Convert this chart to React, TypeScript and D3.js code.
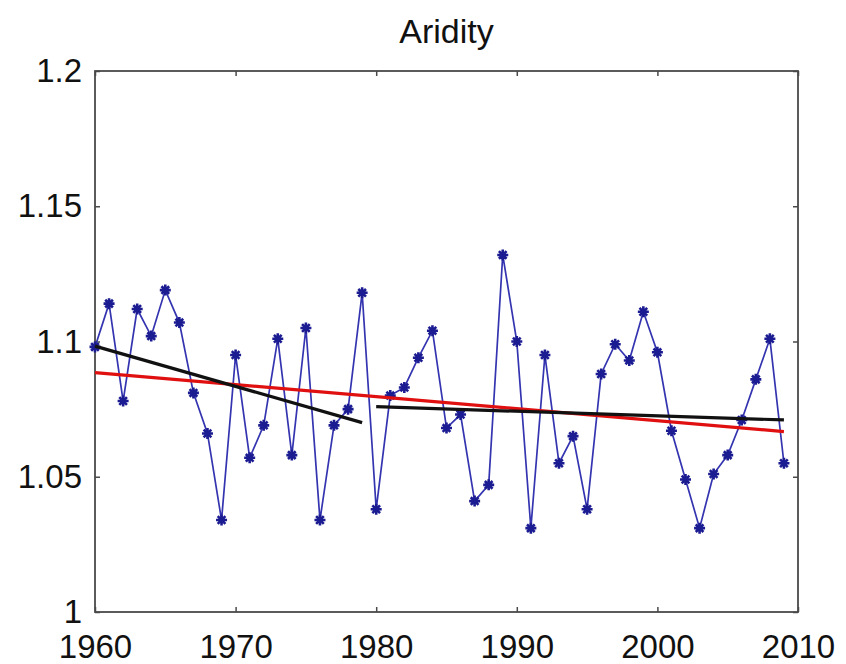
import React, { useEffect, useRef } from "react";
import * as d3 from "d3";

// Yearly aridity index, 1960-2009
const years = d3.range(1960, 2010);
const aridity = [
  1.098, 1.114, 1.078, 1.112, 1.102, 1.119, 1.107, 1.081, 1.066, 1.034,
  1.095, 1.057, 1.069, 1.101, 1.058, 1.105, 1.034, 1.069, 1.075, 1.118,
  1.038, 1.080, 1.083, 1.094, 1.104, 1.068, 1.073, 1.041, 1.047, 1.132,
  1.100, 1.031, 1.095, 1.055, 1.065, 1.038, 1.088, 1.099, 1.093, 1.111,
  1.096, 1.067, 1.049, 1.031, 1.051, 1.058, 1.071, 1.086, 1.101, 1.055,
];

// Trend lines: [year, value] endpoints
const trendAll = [[1960, 1.0885], [2009, 1.0667]];
const trendEarly = [[1960, 1.0983], [1979, 1.070]];
const trendLate = [[1980, 1.0759], [2009, 1.071]];

const xTicks = [1960, 1970, 1980, 1990, 2000, 2010];
const yTicks = [1, 1.05, 1.1, 1.15, 1.2];

const W = 846;
const H = 664;

const App = () => {
  const ref = useRef<SVGSVGElement>(null);

  useEffect(() => {
    const svg = d3.select(ref.current);
    svg.selectAll("*").remove();

    const margin = { top: 71, right: 48, bottom: 52, left: 95 };
    const iw = W - margin.left - margin.right;
    const ih = H - margin.top - margin.bottom;

    const x = d3.scaleLinear().domain([1960, 2010]).range([0, iw]);
    const y = d3.scaleLinear().domain([1, 1.2]).range([ih, 0]);

    svg.append("rect").attr("width", W).attr("height", H).attr("fill", "#fff");

    svg
      .append("text")
      .attr("x", margin.left + iw / 2)
      .attr("y", 43)
      .attr("text-anchor", "middle")
      .attr("font-family", "Liberation Sans, Arial, sans-serif")
      .attr("font-size", 34)
      .attr("fill", "#111")
      .text("Aridity");

    const g = svg.append("g").attr("transform", `translate(${margin.left},${margin.top})`);

    const axisColor = "#4a4a4a";
    const styleAxis = (sel: any, labels: boolean) => {
      sel.select(".domain").remove();
      sel.selectAll(".tick line").attr("stroke", axisColor).attr("stroke-width", 1.5);
      sel
        .selectAll(".tick text")
        .attr("font-family", "Liberation Sans, Arial, sans-serif")
        .attr("font-size", 33)
        .attr("fill", "#111");
      if (!labels) sel.selectAll(".tick text").remove();
    };

    const fmtY = (d: any) => (d === 1 ? "1" : String(d));

    g.append("g")
      .attr("transform", `translate(0,${ih})`)
      .call(d3.axisBottom(x).tickValues(xTicks).tickFormat(d3.format("d")).tickSizeInner(-5).tickSizeOuter(0).tickPadding(23))
      .call((s) => styleAxis(s, true));
    g.append("g")
      .call(d3.axisTop(x).tickValues(xTicks).tickSizeInner(-5).tickSizeOuter(0))
      .call((s) => styleAxis(s, false));
    g.append("g")
      .call(d3.axisLeft(y).tickValues(yTicks).tickFormat(fmtY).tickSizeInner(-5).tickSizeOuter(0).tickPadding(13))
      .call((s) => styleAxis(s, true));
    g.append("g")
      .attr("transform", `translate(${iw},0)`)
      .call(d3.axisRight(y).tickValues(yTicks).tickSizeInner(-5).tickSizeOuter(0))
      .call((s) => styleAxis(s, false));

    g.append("rect")
      .attr("width", iw)
      .attr("height", ih)
      .attr("fill", "none")
      .attr("stroke", axisColor)
      .attr("stroke-width", 1.8);

    const pts = years.map((yr, i) => [yr, aridity[i]]);
    const line = d3
      .line<number[]>()
      .x((d) => x(d[0]))
      .y((d) => y(d[1]));

    g.append("path")
      .datum(pts)
      .attr("fill", "none")
      .attr("stroke", "#3434b0")
      .attr("stroke-width", 1.7)
      .attr("d", line);

    // MATLAB-style '*' markers
    const r = 5.5;
    const star = `M${-r},0L${r},0M0,${-r}L0,${r}M${-r * 0.7},${-r * 0.7}L${r * 0.7},${r * 0.7}M${-r * 0.7},${r * 0.7}L${r * 0.7},${-r * 0.7}`;
    g.append("g")
      .selectAll("path")
      .data(pts)
      .join("path")
      .attr("transform", (d) => `translate(${x(d[0])},${y(d[1])})`)
      .attr("d", star)
      .attr("fill", "none")
      .attr("stroke", "#1c1c92")
      .attr("stroke-width", 2.6);

    const trends: [number[][], string][] = [
      [trendAll, "#e01010"],
      [trendEarly, "#111"],
      [trendLate, "#111"],
    ];
    trends.forEach(([data, color]) => {
      g.append("path")
        .datum(data)
        .attr("fill", "none")
        .attr("stroke", color)
        .attr("stroke-width", 3.2)
        .attr("d", line);
    });
  }, []);

  return (
    <svg
      ref={ref}
      width={W}
      height={H}
      style={{ position: "absolute", left: 0, top: 0, display: "block" }}
    ></svg>
  );
};

export default App;
